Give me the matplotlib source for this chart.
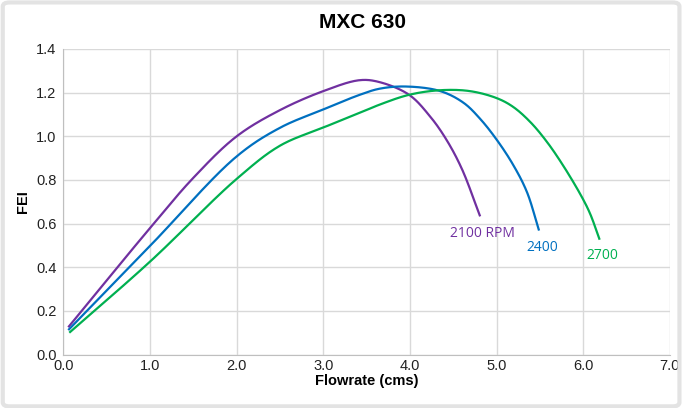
import numpy as np
import matplotlib
matplotlib.use("Agg")
import matplotlib.pyplot as plt
from matplotlib.patches import FancyBboxPatch

# values
x_2100 = [0.055, 1.0, 1.5, 2.0, 2.5, 3.0, 3.42, 3.65, 3.99, 4.23, 4.42, 4.6, 4.81]
y_2100 = [0.125, 0.58, 0.81, 1.0, 1.12, 1.207, 1.257, 1.248, 1.19, 1.092, 0.985, 0.85, 0.633]

x_2400 = [0.055, 1.0, 2.0, 2.5, 3.0, 3.42, 3.65, 3.95, 4.35, 4.62, 4.81, 5.0, 5.19, 5.35, 5.49]
y_2400 = [0.112, 0.498, 0.908, 1.039, 1.123, 1.19, 1.218, 1.228, 1.207, 1.153, 1.08, 0.985, 0.87, 0.745, 0.568]

x_2700 = [0.067, 1.0, 2.0, 2.5, 3.0, 3.42, 3.65, 3.99, 4.35, 4.69, 5.0, 5.19, 5.39, 5.58, 5.77, 5.98, 6.08, 6.19]
y_2700 = [0.10, 0.426, 0.805, 0.957, 1.04, 1.107, 1.145, 1.19, 1.211, 1.207, 1.175, 1.135, 1.065, 0.975, 0.865, 0.725, 0.645, 0.526]

labels = ["2100 RPM", "2400", "2700"]
label_pos = [(4.84, 0.553), (5.53, 0.491), (6.22, 0.455)]
colors = ["#7030A0", "#0070C0", "#00B050"]


def smooth(xs, ys, n=24):
    # centripetal catmull-rom, done in pixel-ish units so the curve doesn't kink
    p = np.column_stack([xs, np.array(ys) * 2.5])
    p = np.vstack([p[0] * 2 - p[1], p, p[-1] * 2 - p[-2]])
    out = []
    for i in range(1, len(p) - 2):
        p0, p1, p2, p3 = p[i - 1], p[i], p[i + 1], p[i + 2]
        t0 = 0.0
        t1 = t0 + np.linalg.norm(p1 - p0) ** 0.5
        t2 = t1 + np.linalg.norm(p2 - p1) ** 0.5
        t3 = t2 + np.linalg.norm(p3 - p2) ** 0.5
        t = np.linspace(t1, t2, n, endpoint=False)[:, None]
        a1 = (t1 - t) / (t1 - t0) * p0 + (t - t0) / (t1 - t0) * p1
        a2 = (t2 - t) / (t2 - t1) * p1 + (t - t1) / (t2 - t1) * p2
        a3 = (t3 - t) / (t3 - t2) * p2 + (t - t2) / (t3 - t2) * p3
        b1 = (t2 - t) / (t2 - t0) * a1 + (t - t0) / (t2 - t0) * a2
        b2 = (t3 - t) / (t3 - t1) * a2 + (t - t1) / (t3 - t1) * a3
        out.append((t2 - t) / (t2 - t1) * b1 + (t - t1) / (t2 - t1) * b2)
    out.append(p[-2][None, :])
    out = np.vstack(out)
    return out[:, 0], out[:, 1] / 2.5


fig = plt.figure(figsize=(6.87, 4.08), dpi=100)
ax = fig.add_axes([0.0924, 0.131, 0.8826, 0.749])

for xs, ys, c in zip([x_2100, x_2400, x_2700], [y_2100, y_2400, y_2700], colors):
    sx, sy = smooth(xs, ys)
    ax.plot(sx, sy, color=c, lw=1.6, solid_capstyle="butt")

for lab, (lx, ly), c in zip(labels, label_pos, colors):
    ax.text(lx, ly, lab, color=c, fontsize=10, family="Open Sans", ha="center", va="center")

ax.set_xlim(0, 7)
ax.set_ylim(0, 1.4)
ax.set_xticks(np.arange(0, 7.1, 1.0))
ax.set_yticks(np.arange(0, 1.41, 0.2))
ax.set_xticklabels(["%.1f" % v for v in np.arange(0, 7.1, 1.0)])
ax.set_yticklabels(["%.1f" % v for v in np.arange(0, 1.41, 0.2)])
ax.grid(True, color="#d9d9d9", lw=1)
ax.set_axisbelow(True)
for s in ["top", "right"]:
    ax.spines[s].set_visible(False)
for s in ["left", "bottom"]:
    ax.spines[s].set_color("#bfbfbf")
ax.tick_params(length=0, labelsize=10.5, labelcolor="#222222")
ax.tick_params(axis="x", pad=3)
ax.tick_params(axis="y", pad=5)
for t in ax.get_xticklabels() + ax.get_yticklabels():
    t.set_family("Liberation Sans")

ax.set_xlabel("Flowrate (cms)", fontsize=10.5, fontweight="bold", family="Liberation Sans", labelpad=1)
ax.set_ylabel("FEI", fontsize=10.5, fontweight="bold", family="Liberation Sans", labelpad=4)
fig.text(0.527, 0.945, "MXC 630", fontsize=15, fontweight="bold", family="Liberation Sans",
         ha="center", va="center")

fig.patches.append(FancyBboxPatch((0.004, 0.004), 0.985, 0.99, boxstyle="round,pad=0,rounding_size=0.01",
                                  transform=fig.transFigure, fill=False, edgecolor="#e3e3e3", lw=3))

fig.savefig("out.png", dpi=100)
